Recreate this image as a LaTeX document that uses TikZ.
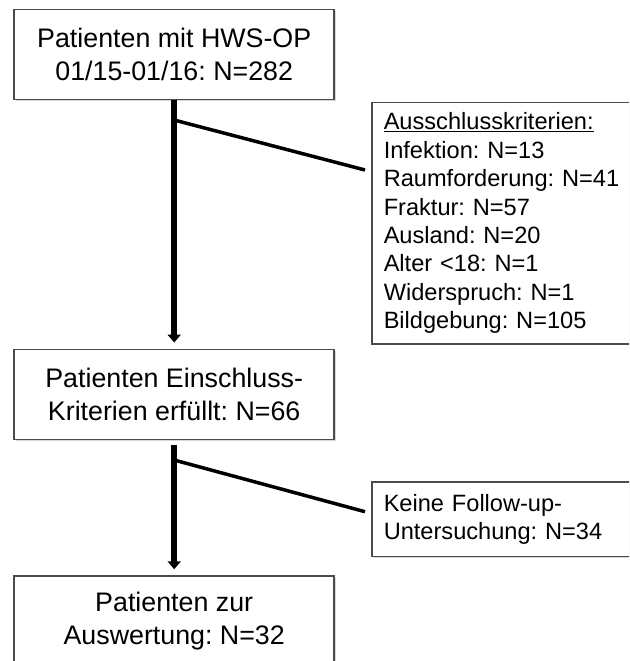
\documentclass[tikz,border=0pt]{standalone}
\usepackage{fontspec}
\setmainfont{Liberation Sans}
\usetikzlibrary{arrows.meta,shadows,calc}
\begin{document}
\frenchspacing
\begin{tikzpicture}[x=1pt,y=-1pt,
  box/.style={draw=black!70, line width=1.5pt, fill=white,
    drop shadow={shadow xshift=1.5pt, shadow yshift=-1.5pt, fill=black!40, opacity=0.4}, inner sep=0pt},
  mainbox/.style={box, minimum width=320pt, minimum height=90pt, align=center,
    font=\fontsize{26.8}{33}\selectfont},
  sidebox/.style={box, anchor=north west, minimum width=269pt, align=left, text width=250pt,
    inner xsep=12pt, font=\fontsize{23.6}{28.4}\selectfont},
  stem/.style={line width=5.5pt, -{Triangle[width=13pt,length=8pt]}, shorten >=6pt},
  branch/.style={line width=3.5pt}]
\useasboundingbox (0,0) rectangle (629,661);
\clip (0,0) rectangle (629,661);
\fill[white] (0,0) rectangle (629,661);

\node[mainbox] (box1) at (174.2,54.3) {Patienten mit HWS-OP\\01/15-01/16: N=282};
\node[sidebox, minimum height=241.3pt] (excl) at (371,101.7)
  {\underline{Ausschlusskriterien:}\\Infektion: N=13\\Raumforderung: N=41\\Fraktur: N=57\\Ausland: N=20\\Alter <18: N=1\\Widerspruch: N=1\\Bildgebung: N=105};
\node[mainbox] (box2) at (174.2,394.3) {Patienten Einschluss-\\Kriterien erfüllt: N=66};
\node[sidebox, minimum height=74.7pt] (keine) at (371,481) {Keine Follow-up-\\Untersuchung: N=34};
\node[mainbox] (box3) at (174.2,621) {Patienten zur\\Auswertung: N=32};

\coordinate (j1) at ($(box1.south)+(0,20)$);
\coordinate (e1) at ($(excl.north west)+(-6,68.3)$);
\coordinate (j2) at ($(box2.south)+(0,20)$);
\coordinate (e2) at ($(keine.north west)+(-6,30.7)$);

\draw[stem] (box1.south) -- (box2.north);
\draw[stem, shorten <=5pt] (box2.south) -- (box3.north);
\draw[branch] (j1) -- (e1);
\draw[branch] (j2) -- (e2);
\end{tikzpicture}
\end{document}
